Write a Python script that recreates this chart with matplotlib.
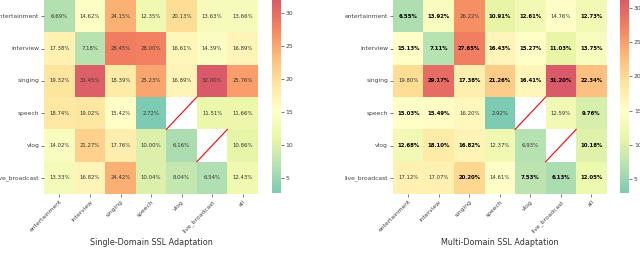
import numpy as np
import matplotlib
matplotlib.use("Agg")
import matplotlib.pyplot as plt
import seaborn as sns
from matplotlib.colors import LinearSegmentedColormap

rows = ["entertainment", "interview", "singing", "speech", "vlog", "live_broadcast"]
cols = rows + ["all"]
nan = np.nan

single = np.array([
    [6.69, 14.62, 24.15, 12.35, 20.13, 13.63, 13.66],
    [17.38, 7.18, 28.45, 28.00, 16.61, 14.39, 16.89],
    [19.32, 31.45, 18.39, 25.23, 16.89, 32.00, 25.76],
    [18.74, 19.02, 15.42, 2.72, nan, 11.51, 11.66],
    [14.02, 21.27, 17.76, 10.00, 6.16, nan, 10.86],
    [13.33, 16.82, 24.42, 10.04, 8.04, 6.54, 12.43],
])
multi = np.array([
    [6.55, 13.92, 26.22, 10.91, 12.61, 14.76, 12.73],
    [15.13, 7.11, 27.65, 16.43, 15.27, 11.03, 13.75],
    [19.80, 29.17, 17.38, 21.26, 16.41, 31.20, 22.34],
    [15.03, 15.49, 16.20, 2.92, nan, 12.59, 9.76],
    [12.68, 18.10, 16.82, 12.37, 6.93, nan, 10.18],
    [17.12, 17.07, 20.20, 14.61, 7.53, 6.13, 12.05],
])
titles = ["Single-Domain SSL Adaptation", "Multi-Domain SSL Adaptation"]

# truncated, reversed Spectral (teal -> yellow -> red)
spec = plt.get_cmap("Spectral")
cmap = LinearSegmentedColormap.from_list(
    "trunc", [spec(x) for x in np.linspace(0.8, 0.1, 64)])

fig = plt.figure(figsize=(6.4, 2.63), dpi=100)
ax_pos = [[0.069, 0.262, 0.334, 0.738], [0.614, 0.262, 0.334, 0.738]]
cb_pos = [[0.425, 0.266, 0.014, 0.734], [0.969, 0.266, 0.014, 0.734]]

for k, data in enumerate([single, multi]):
    ax = fig.add_axes(ax_pos[k])
    cax = fig.add_axes(cb_pos[k])
    sns.heatmap(data, ax=ax, cbar_ax=cax, cmap=cmap, alpha=0.85,
                xticklabels=cols, yticklabels=rows, linewidths=0)
    cax.set_yticks([5, 10, 15, 20, 25, 30])
    cax.tick_params(labelsize=4.4, length=2, width=0.5, colors="#444444",
                    pad=1.5)
    for c in cax.collections:
        c.set_alpha(0.85)
    ax.tick_params(labelsize=4.3, length=2, width=0.5, colors="#444444",
                   pad=1.5)
    plt.setp(ax.get_xticklabels(), rotation=45, ha="right",
             rotation_mode="anchor")
    plt.setp(ax.get_yticklabels(), rotation=0)
    for i in range(data.shape[0]):
        for j in range(data.shape[1]):
            v = data[i, j]
            if np.isnan(v):
                ax.plot([j, j + 1], [i + 1, i], color="red", lw=0.8)
                continue
            bold = k == 1 and v < single[i, j]
            ax.text(j + 0.5, i + 0.5, "%.2f%%" % v, ha="center",
                    va="center", fontsize=3.9,
                    fontweight="bold" if bold else "normal",
                    color="black" if bold else "#333333")
    ax.set_xlabel(titles[k], fontsize=5.8, color="#333333", labelpad=3)

fig.savefig("out.png", dpi=100)
